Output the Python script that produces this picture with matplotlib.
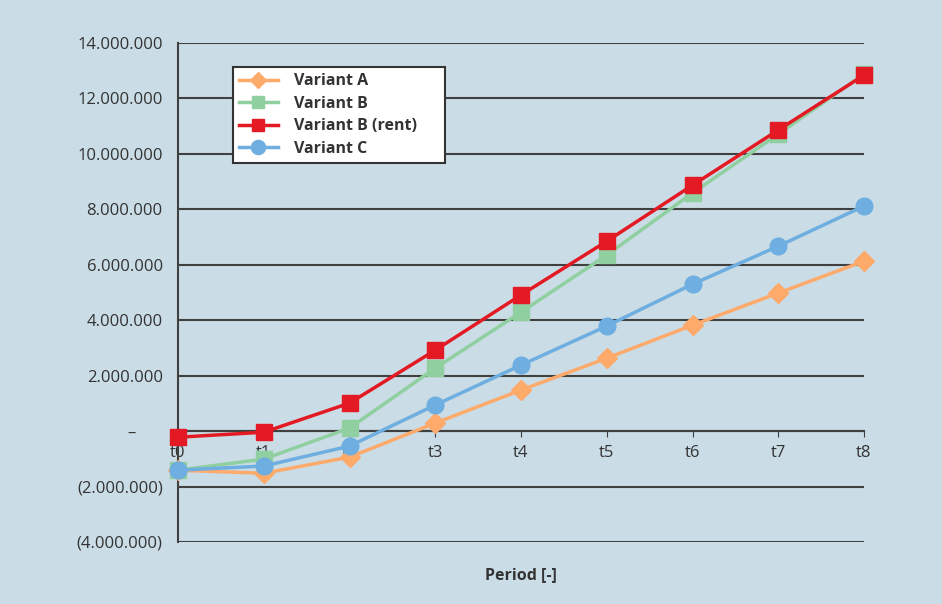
import matplotlib.pyplot as plt
from matplotlib.ticker import FuncFormatter

plt.rcParams['font.family'] = ['Open Sans', 'DejaVu Sans']

# Data
periods = ["t0", "t1", "t2", "t3", "t4", "t5", "t6", "t7", "t8"]
variant_a = [-1410000, -1520000, -940000, 290000, 1480000, 2630000, 3820000, 4980000, 6130000]
variant_b = [-1410000, -1010000, 110000, 2270000, 4290000, 6350000, 8590000, 10710000, 12880000]
variant_b_rent = [-220000, -40000, 1010000, 2920000, 4910000, 6850000, 8870000, 10860000, 12840000]
variant_c = [-1410000, -1260000, -540000, 940000, 2380000, 3790000, 5300000, 6670000, 8120000]

bg = "#cadce6"
text_col = "#333333"

fig = plt.figure(figsize=(9.42, 6.04), dpi=100)
fig.patch.set_facecolor(bg)
ax = fig.add_axes([178 / 942, 1 - 542 / 604, 686 / 942, 499 / 604])
ax.set_facecolor(bg)

x = list(range(len(periods)))
ax.plot(x, variant_a, color="#fdaa6b", lw=2.5, marker="D", ms=10, label="Variant A", zorder=3, clip_on=False)
ax.plot(x, variant_b, color="#8fcfa0", lw=2.5, marker="s", ms=11, label="Variant B", zorder=3, clip_on=False)
ax.plot(x, variant_b_rent, color="#e31a23", lw=2.5, marker="s", ms=11, label="Variant B (rent)", zorder=4, clip_on=False)
ax.plot(x, variant_c, color="#6eaee0", lw=2.5, marker="o", ms=12, label="Variant C", zorder=4, clip_on=False)

ax.set_xlim(0, len(periods) - 1)
ax.set_ylim(-4000000, 14000000)
ax.set_yticks(range(-4000000, 14000001, 2000000))


def fmt(v, pos):
    v = int(round(v))
    if v == 0:
        return "–      "
    s = f"{abs(v):,}".replace(",", ".")
    return f"({s})" if v < 0 else s


ax.yaxis.set_major_formatter(FuncFormatter(fmt))
ax.grid(axis="y", color="#404040", lw=1.5, zorder=1)
ax.set_axisbelow(True)

ax.set_xticks(x)
ax.set_xticklabels(periods)
ax.spines["bottom"].set_position(("data", 0))
ax.spines["bottom"].set_color("#404040")
ax.spines["bottom"].set_linewidth(1.5)
ax.spines["left"].set_color("#404040")
ax.spines["left"].set_linewidth(1.5)
ax.spines["top"].set_visible(False)
ax.spines["right"].set_visible(False)
ax.tick_params(axis="x", length=4, color="#404040", labelsize=12, labelcolor=text_col, pad=6)
ax.tick_params(axis="y", length=0, labelsize=12, labelcolor=text_col, pad=11)
for lab in ax.get_xticklabels():
    lab.set_zorder(2)

ax.set_xlabel("Period [-]", fontsize=11.5, fontweight="bold", color=text_col)
ax.xaxis.set_label_coords(0.5, -0.05)

leg = ax.legend(loc="upper left", bbox_to_anchor=(0.08, 0.762, 0.309, 0.19), mode="expand",
                borderaxespad=0, frameon=True, fancybox=False, edgecolor="#333333",
                facecolor="white", framealpha=1, fontsize=11.5, handlelength=2.4,
                borderpad=0.4, labelspacing=0.4, handletextpad=1.0, markerscale=0.85)
leg.get_frame().set_linewidth(1.5)
for t in leg.get_texts():
    t.set_fontweight("bold")
    t.set_color(text_col)

fig.savefig("out.png", dpi=100, facecolor=bg)
